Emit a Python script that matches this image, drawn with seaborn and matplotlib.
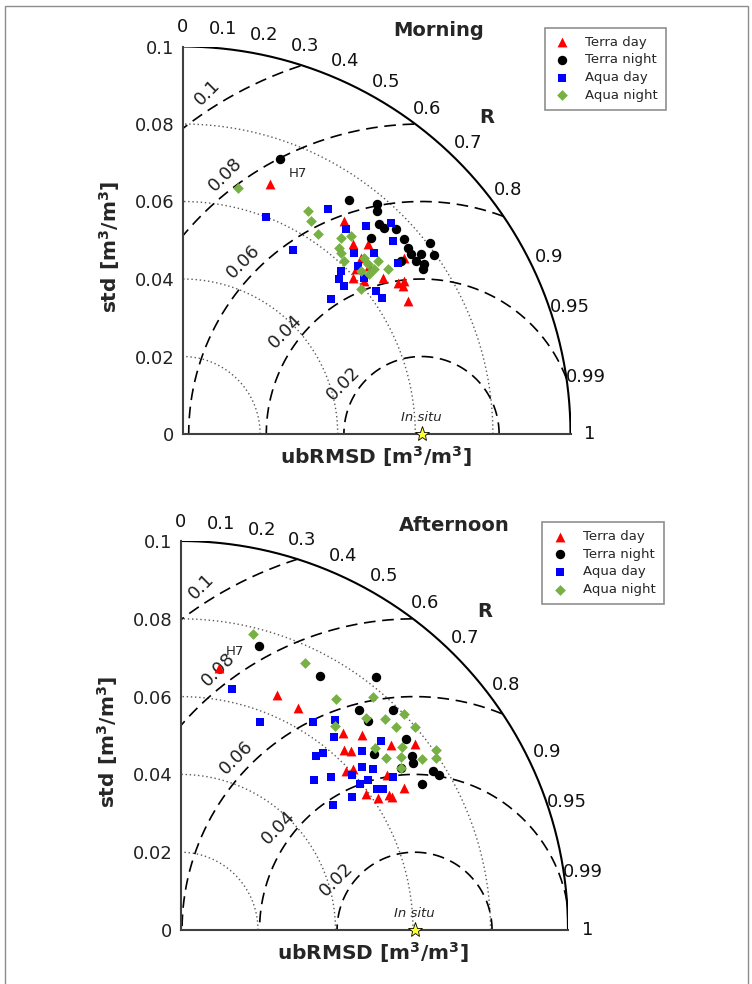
import numpy as np
import pandas as pd
import matplotlib
matplotlib.use("Agg")
import matplotlib.pyplot as plt
from matplotlib.patches import Rectangle
import seaborn as sns

# series styling
series = ["Terra day", "Terra night", "Aqua day", "Aqua night"]
colors = {"Terra day": "#ff0000", "Terra night": "#000000",
          "Aqua day": "#0000ff", "Aqua night": "#77b043"}
markers = {"Terra day": "^", "Terra night": "o", "Aqua day": "s", "Aqua night": "D"}
msize = {"Terra day": 50, "Terra night": 46, "Aqua day": 30, "Aqua night": 30}

# reference (in situ) std
morning_ref = 0.0616
afternoon_ref = 0.0604

# Morning: std and correlation R per satellite/overpass (first Terra night = H7)
am_terra_day_std = [0.0683, 0.0689, 0.0658, 0.0684, 0.0646, 0.0617, 0.0647, 0.0655,
                    0.0678, 0.0694, 0.0686, 0.0675, 0.0729, 0.0612, 0.0596]
am_terra_day_r = [0.331, 0.604, 0.667, 0.698, 0.711, 0.724, 0.742, 0.788,
                  0.818, 0.822, 0.830, 0.860, 0.782, 0.763, 0.737]
am_terra_night_std = [0.0752, 0.0740, 0.0776, 0.0762, 0.0741, 0.0743, 0.0763, 0.0701, 0.0760,
                      0.0807, 0.0753, 0.0749, 0.0770, 0.0795, 0.0749, 0.0761, 0.0751, 0.0718]
am_terra_night_r = [0.335, 0.579, 0.645, 0.657, 0.682, 0.698, 0.720, 0.692, 0.750,
                    0.792, 0.771, 0.785, 0.797, 0.814, 0.802, 0.817, 0.824, 0.783]
am_aqua_day_std = [0.0600, 0.0691, 0.0715, 0.0764, 0.0736, 0.0676, 0.0554, 0.0643, 0.0679,
                   0.0586, 0.0568, 0.0565, 0.0617, 0.0620, 0.0624, 0.0518, 0.0709, 0.0626]
am_aqua_day_r = [0.360, 0.543, 0.661, 0.702, 0.736, 0.623, 0.515, 0.687, 0.726,
                 0.696, 0.709, 0.736, 0.757, 0.803, 0.826, 0.739, 0.782, 0.721]
am_aqua_night_std = [0.0650, 0.0660, 0.0642, 0.0623, 0.0650, 0.0627, 0.0610, 0.0620, 0.0652,
                     0.0649, 0.0652, 0.0673, 0.0679, 0.0623, 0.0593, 0.0634, 0.0670]
am_aqua_night_r = [0.221, 0.490, 0.516, 0.560, 0.628, 0.643, 0.681, 0.658, 0.717,
                   0.736, 0.757, 0.748, 0.779, 0.737, 0.775, 0.758, 0.647]

# Afternoon
pm_terra_day_std = [0.0680, 0.0655, 0.0646, 0.0657, 0.0687, 0.0723, 0.0772, 0.0626, 0.0638,
                    0.0592, 0.0609, 0.0665, 0.0684, 0.0594, 0.0613, 0.0641, 0.0645]
pm_terra_day_r = [0.148, 0.382, 0.471, 0.639, 0.682, 0.752, 0.784, 0.675, 0.691,
                  0.722, 0.732, 0.802, 0.845, 0.807, 0.832, 0.840, 0.847]
pm_terra_night_std = [0.0757, 0.0745, 0.0823, 0.0729, 0.0787, 0.0723, 0.0761,
                      0.0675, 0.0747, 0.0737, 0.0706, 0.0770, 0.0778, 0.0728]
pm_terra_night_r = [0.269, 0.484, 0.614, 0.633, 0.697, 0.671, 0.765,
                    0.741, 0.800, 0.814, 0.807, 0.847, 0.858, 0.856]
pm_aqua_day_std = [0.0635, 0.0574, 0.0636, 0.0671, 0.0636, 0.0711, 0.0569, 0.0586, 0.0658, 0.0630,
                   0.0648, 0.0518, 0.0554, 0.0597, 0.0676, 0.0597, 0.0620, 0.0624, 0.0637, 0.0560, 0.0509]
pm_aqua_day_r = [0.211, 0.359, 0.539, 0.596, 0.624, 0.729, 0.616, 0.628, 0.713, 0.745,
                 0.768, 0.666, 0.702, 0.743, 0.812, 0.777, 0.782, 0.813, 0.821, 0.791, 0.774]
pm_aqua_night_std = [0.0783, 0.0757, 0.0716, 0.0778, 0.0725, 0.0756, 0.0800, 0.0762, 0.0800,
                     0.0660, 0.0742, 0.0686, 0.0692, 0.0722, 0.0764, 0.0805, 0.0795, 0.0705]
pm_aqua_night_r = [0.240, 0.425, 0.561, 0.640, 0.661, 0.698, 0.721, 0.730, 0.757,
                   0.605, 0.772, 0.733, 0.768, 0.789, 0.817, 0.819, 0.830, 0.808]

std_circles = [0.02, 0.04, 0.06, 0.08]
rmsd_circles = [0.02, 0.04, 0.06, 0.08, 0.1]
rmsd_label_angle = [147, 143, 136, 127, 122]
r_ticks = [0, 0.1, 0.2, 0.3, 0.4, 0.5, 0.6, 0.7, 0.8, 0.9, 0.95, 0.99, 1]
r_tick_labels = ["0", "0.1", "0.2", "0.3", "0.4", "0.5", "0.6", "0.7", "0.8", "0.9", "0.95", "0.99", "1"]


def make_df(stds, rs):
    rows = []
    for name, s, r in zip(series, stds, rs):
        for a, b in zip(s, r):
            rows.append((name, a, b))
    df = pd.DataFrame(rows, columns=["sensor", "std", "R"])
    df["x"] = df["std"] * df["R"]
    df["y"] = df["std"] * np.sqrt(1 - df["R"] ** 2)
    return df


def taylor(ax, df, ref, title, title_x, h7_side):
    ax.set_xlim(0, 0.1)
    ax.set_ylim(0, 0.1)
    t = np.linspace(0, np.pi / 2, 300)
    for s in std_circles:
        ax.plot(s * np.cos(t), s * np.sin(t), ls=(0, (1, 2)), color="0.35", lw=1)
    tt = np.linspace(0, np.pi, 600)
    for e, ang in zip(rmsd_circles, rmsd_label_angle):
        x = ref + e * np.cos(tt)
        y = e * np.sin(tt)
        bad = (x < 0) | (np.hypot(x, y) > 0.1)
        x[bad] = np.nan
        y[bad] = np.nan
        ax.plot(x, y, ls=(0, (7, 4)), color="k", lw=1.2)
        a = np.deg2rad(ang)
        lab = "0.1" if e == 0.1 else f"{e:.2f}"
        ax.text(ref + (e + 0.004) * np.cos(a), (e + 0.004) * np.sin(a), lab,
                rotation=45, ha="center", va="center", fontsize=13, color="#222")
    ax.plot(0.1 * np.cos(t), 0.1 * np.sin(t), color="k", lw=1.5)

    for r, lab in zip(r_ticks, r_tick_labels):
        th = np.arccos(r)
        ax.text(0.105 * np.cos(th), 0.105 * np.sin(th), lab, fontsize=13,
                ha="center", va="center", color="#111")
    ax.text(0.0785, 0.0818, "R", fontsize=14, fontweight="bold", ha="center", va="center")

    for name in series:
        sub = df[df["sensor"] == name]
        sns.scatterplot(data=sub, x="x", y="y", ax=ax, marker=markers[name],
                        color=colors[name], s=msize[name], linewidth=0,
                        label=name, legend=False, clip_on=False, zorder=3)

    h7 = df[df["sensor"] == "Terra night"].iloc[0]
    if h7_side == "right":
        ax.annotate("H7", (h7["x"], h7["y"]), xytext=(6, -10), textcoords="offset points",
                    ha="left", va="center", fontsize=9.5)
    else:
        ax.annotate("H7", (h7["x"], h7["y"]), xytext=(-11, -4), textcoords="offset points",
                    ha="right", va="center", fontsize=9.5)

    ax.plot([ref], [0], marker="*", ms=11, mfc="#ffff33", mec="k", mew=0.6,
            clip_on=False, zorder=5)
    ax.text(ref, 0.0042, "In situ", fontsize=9.5, style="italic", ha="center", va="center")

    for sp in ["top", "right"]:
        ax.spines[sp].set_visible(False)
    for sp in ["left", "bottom"]:
        ax.spines[sp].set_color("0.25")
        ax.spines[sp].set_linewidth(1.5)
    ax.set_xticks([])
    ax.set_yticks([0, 0.02, 0.04, 0.06, 0.08, 0.1])
    ax.set_yticklabels(["0", "0.02", "0.04", "0.06", "0.08", "0.1"], fontsize=13, color="#222")
    ax.tick_params(axis="y", length=0, pad=6)
    ax.set_xlabel("")
    ax.set_ylabel("")

    ax.text(-0.187, 0.483, r"std [m$^\mathbf{3}$/m$^\mathbf{3}$]", transform=ax.transAxes,
            rotation=90, ha="center", va="center", fontsize=14.5, fontweight="bold")
    ax.text(0.497, -0.058, r"ubRMSD [m$^\mathbf{3}$/m$^\mathbf{3}$]", transform=ax.transAxes,
            ha="center", va="center", fontsize=14.5, fontweight="bold")
    ax.text(title_x, 1.04, title, transform=ax.transAxes, ha="left", va="center",
            fontsize=14, fontweight="bold")

    leg = ax.legend(loc="upper left", bbox_to_anchor=(0.933, 1.048), borderaxespad=0,
                    fontsize=9.5, frameon=True, fancybox=False, borderpad=0.6,
                    handlelength=1.5, handletextpad=1.0, labelspacing=0.35)
    leg.get_frame().set_edgecolor("0.45")
    leg.get_frame().set_linewidth(1.2)


sns.set_style("white")

fig = plt.figure(figsize=(7.52, 9.84), dpi=100)
fig.patches.append(Rectangle((5 / 752, -0.01), 743 / 752, 1 - 6 / 984 + 0.01,
                             transform=fig.transFigure, fill=False, ec="0.55", lw=1))

ax1 = fig.add_axes([182.5 / 752, 1 - 434 / 984, 388 / 752, 387.5 / 984])
ax2 = fig.add_axes([180.5 / 752, 1 - 930 / 984, 387.5 / 752, 389 / 984])

df_am = make_df([am_terra_day_std, am_terra_night_std, am_aqua_day_std, am_aqua_night_std],
                [am_terra_day_r, am_terra_night_r, am_aqua_day_r, am_aqua_night_r])
df_pm = make_df([pm_terra_day_std, pm_terra_night_std, pm_aqua_day_std, pm_aqua_night_std],
                [pm_terra_day_r, pm_terra_night_r, pm_aqua_day_r, pm_aqua_night_r])

taylor(ax1, df_am, morning_ref, "Morning", 0.543, "right")
taylor(ax2, df_pm, afternoon_ref, "Afternoon", 0.564, "left")

fig.savefig("out.png", dpi=100)
